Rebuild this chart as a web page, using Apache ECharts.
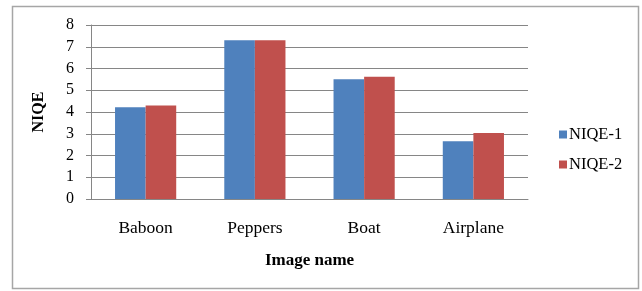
<!DOCTYPE html>
<html>
<head>
<meta charset="utf-8">
<script src="https://cdn.jsdelivr.net/npm/echarts@6/dist/echarts.min.js"></script>
<style>
  html, body { margin: 0; padding: 0; background: #fff; }
  #chart { width: 642px; height: 291px; }
</style>
</head>
<body>
<div id="chart"></div>
<script>
const categories = ["Baboon", "Peppers", "Boat", "Airplane"];
const niqe1 = [4.22, 7.30, 5.51, 2.66];
const niqe2 = [4.30, 7.30, 5.62, 3.03];

const serif = "Liberation Serif";
const chart = echarts.init(document.getElementById("chart"));

chart.setOption({
  animation: false,
  textStyle: { fontFamily: serif },
  graphic: [
    {
      type: "rect",
      shape: { x: 12.5, y: 6.5, width: 626, height: 282 },
      style: { fill: "none", stroke: "#a6a6a6", lineWidth: 1.5 }
    }
  ],
  grid: { left: 91, right: 114, top: 25, bottom: 92 },
  legend: {
    orient: "vertical",
    left: 554,
    top: 121,
    itemWidth: 8,
    itemHeight: 8,
    itemGap: 13,
    icon: "rect",
    textStyle: { fontFamily: serif, fontSize: 16.5, color: "#000", padding: [0, 0, 0, -3] },
    data: ["NIQE-1", "NIQE-2"]
  },
  xAxis: {
    type: "category",
    data: categories,
    name: "Image name",
    nameLocation: "middle",
    nameGap: 53,
    nameTextStyle: { fontFamily: serif, fontSize: 17, fontWeight: "bold", color: "#000" },
    axisLine: { lineStyle: { color: "#868686" } },
    axisTick: { show: false },
    axisLabel: { fontFamily: serif, fontSize: 17.5, color: "#000", margin: 20 }
  },
  yAxis: {
    type: "value",
    min: 0,
    max: 8,
    interval: 1,
    name: "NIQE",
    nameLocation: "middle",
    nameGap: 44,
    nameRotate: 90,
    nameTextStyle: { fontFamily: serif, fontSize: 16, fontWeight: "bold", color: "#000" },
    axisLine: { show: true, lineStyle: { color: "#868686" } },
    axisTick: { show: true, length: 5, lineStyle: { color: "#868686" } },
    axisLabel: { fontFamily: serif, fontSize: 16, color: "#000", margin: 17 },
    splitLine: { lineStyle: { color: "#868686" } }
  },
  series: [
    {
      name: "NIQE-1",
      type: "bar",
      data: niqe1,
      barGap: "0%",
      barCategoryGap: "44%",
      itemStyle: { color: "#4f81bd" }
    },
    {
      name: "NIQE-2",
      type: "bar",
      data: niqe2,
      barGap: "0%",
      barCategoryGap: "44%",
      itemStyle: { color: "#c0504d" }
    }
  ]
});
</script>
</body>
</html>
